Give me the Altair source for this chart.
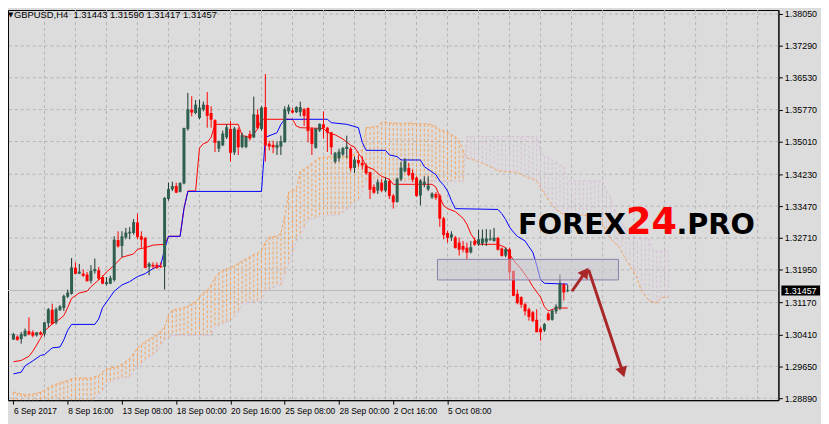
import altair as alt
import pandas as pd

# ---------------- data ----------------
bars = list(range(144))
opens = [1.3029, 1.3036, 1.3030, 1.3037, 1.3049, 1.3046, 1.3039, 1.3046, 1.3043, 1.3068,
         1.3100, 1.3069, 1.3099, 1.3104, 1.3131, 1.3138, 1.3200, 1.3186, 1.3186, 1.3184,
         1.3169, 1.3192, 1.3194, 1.3178, 1.3161, 1.3162, 1.3171, 1.3266, 1.3252, 1.3272,
         1.3282, 1.3283, 1.3308, 1.3275, 1.3271, 1.3202, 1.3207, 1.3207, 1.3204, 1.3202,
         1.3364, 1.3387, 1.3395, 1.3381, 1.3401, 1.3531, 1.3577, 1.3569, 1.3557, 1.3577,
         1.3588, 1.3569, 1.3552, 1.3484, 1.3492, 1.3511, 1.3531, 1.3475, 1.3529, 1.3488,
         1.3488, 1.3519, 1.3511, 1.3565, 1.3531, 1.3583, 1.3496, 1.3493, 1.3486, 1.3489,
         1.3499, 1.3573, 1.3575, 1.3571, 1.3571, 1.3578, 1.3581, 1.3531, 1.3486, 1.3527,
         1.3542, 1.3534, 1.3523, 1.3453, 1.3461, 1.3470, 1.3483, 1.3484, 1.3438, 1.3457,
         1.3450, 1.3444, 1.3428, 1.3393, 1.3384, 1.3403, 1.3384, 1.3407, 1.3372, 1.3357,
         1.3411, 1.3430, 1.3438, 1.3426, 1.3415, 1.3372, 1.3399, 1.3387, 1.3368, 1.3376,
         1.3372, 1.3318, 1.3283, 1.3272, 1.3272, 1.3260, 1.3252, 1.3248, 1.3237, 1.3264,
         1.3256, 1.3258, 1.3261, 1.3267, 1.3264, 1.3271, 1.3246, 1.3229, 1.3244, 1.3192,
         1.3138, 1.3130, 1.3113, 1.3101, 1.3094, 1.3076, 1.3055, 1.3051, 1.3091, 1.3076,
         1.3096, 1.3104, 1.3161, 1.31443]
highs = [1.3045, 1.3039, 1.3047, 1.3055, 1.3082, 1.3051, 1.3047, 1.3049, 1.3070, 1.3104,
         1.3114, 1.3105, 1.3111, 1.3136, 1.3148, 1.3223, 1.3213, 1.3209, 1.3196, 1.3190,
         1.3206, 1.3222, 1.3202, 1.3182, 1.3178, 1.3181, 1.3275, 1.3287, 1.3287, 1.3295,
         1.3297, 1.3316, 1.3329, 1.3287, 1.3274, 1.3213, 1.3213, 1.3213, 1.3213, 1.3368,
         1.3403, 1.3405, 1.3403, 1.3404, 1.3534, 1.3617, 1.3609, 1.3600, 1.3601, 1.3596,
         1.3619, 1.3585, 1.3554, 1.3503, 1.3527, 1.3542, 1.3550, 1.3536, 1.3534, 1.3522,
         1.3515, 1.3527, 1.3608, 1.3578, 1.3585, 1.3662, 1.3503, 1.3503, 1.3501, 1.3515,
         1.3585, 1.3589, 1.3581, 1.3585, 1.3596, 1.3581, 1.3582, 1.3534, 1.3532, 1.3544,
         1.3573, 1.3536, 1.3524, 1.3476, 1.3484, 1.3488, 1.3515, 1.3488, 1.3465, 1.3469,
         1.3465, 1.3449, 1.3429, 1.3399, 1.3411, 1.3411, 1.3415, 1.3411, 1.3376, 1.3415,
         1.3453, 1.3461, 1.3450, 1.3434, 1.3418, 1.3411, 1.3418, 1.3418, 1.3380, 1.3380,
         1.3376, 1.3322, 1.3288, 1.3287, 1.3276, 1.3272, 1.3264, 1.3260, 1.3264, 1.3272,
         1.3291, 1.3291, 1.3292, 1.3291, 1.3295, 1.3274, 1.3248, 1.3248, 1.3248, 1.3194,
         1.3148, 1.3132, 1.3117, 1.3105, 1.3097, 1.3101, 1.3059, 1.3068, 1.3094, 1.3101,
         1.3113, 1.3184, 1.3163, 1.31590]
lows = [1.3028, 1.3026, 1.3019, 1.3036, 1.3039, 1.3034, 1.3036, 1.3039, 1.3036, 1.3059,
        1.3065, 1.3065, 1.3097, 1.3097, 1.3128, 1.3136, 1.3185, 1.3185, 1.3178, 1.3167,
        1.3163, 1.3186, 1.3171, 1.3161, 1.3158, 1.3161, 1.3167, 1.3248, 1.3225, 1.3268,
        1.3268, 1.3279, 1.3268, 1.3248, 1.3200, 1.3182, 1.3198, 1.3198, 1.3200, 1.3148,
        1.3360, 1.3383, 1.3378, 1.3380, 1.3399, 1.3527, 1.3561, 1.3566, 1.3554, 1.3573,
        1.3534, 1.3534, 1.3476, 1.3476, 1.3490, 1.3507, 1.3453, 1.3469, 1.3469, 1.3485,
        1.3485, 1.3503, 1.3509, 1.3531, 1.3527, 1.3453, 1.3480, 1.3473, 1.3469, 1.3469,
        1.3499, 1.3566, 1.3568, 1.3569, 1.3561, 1.3538, 1.3499, 1.3469, 1.3484, 1.3524,
        1.3508, 1.3476, 1.3469, 1.3449, 1.3453, 1.3467, 1.3461, 1.3430, 1.3426, 1.3441,
        1.3434, 1.3422, 1.3364, 1.3376, 1.3376, 1.3380, 1.3380, 1.3364, 1.3341, 1.3355,
        1.3407, 1.3427, 1.3418, 1.3404, 1.3369, 1.3349, 1.3392, 1.3383, 1.3364, 1.3362,
        1.3298, 1.3268, 1.3260, 1.3264, 1.3246, 1.3229, 1.3237, 1.3221, 1.3234, 1.3252,
        1.3252, 1.3253, 1.3252, 1.3264, 1.3262, 1.3241, 1.3227, 1.3225, 1.3171, 1.3132,
        1.3113, 1.3104, 1.3086, 1.3074, 1.3070, 1.3047, 1.3026, 1.3047, 1.3074, 1.3074,
        1.3090, 1.3099, 1.3122, 1.31417]
closes = [1.3041, 1.3029, 1.3041, 1.3049, 1.3042, 1.3039, 1.3045, 1.3042, 1.3069, 1.3100,
          1.3067, 1.3100, 1.3107, 1.3132, 1.3140, 1.3200, 1.3186, 1.3190, 1.3182, 1.3169,
          1.3192, 1.3196, 1.3175, 1.3163, 1.3165, 1.3175, 1.3266, 1.3252, 1.3274, 1.3283,
          1.3285, 1.3308, 1.3274, 1.3268, 1.3200, 1.3209, 1.3204, 1.3200, 1.3202, 1.3366,
          1.3387, 1.3394, 1.3380, 1.3401, 1.3532, 1.3577, 1.3571, 1.3588, 1.3581, 1.3588,
          1.3563, 1.3554, 1.3499, 1.3501, 1.3519, 1.3534, 1.3475, 1.3531, 1.3488, 1.3515,
          1.3511, 1.3509, 1.3565, 1.3534, 1.3581, 1.3492, 1.3490, 1.3488, 1.3492, 1.3501,
          1.3577, 1.3582, 1.3571, 1.3582, 1.3582, 1.3563, 1.3527, 1.3496, 1.3531, 1.3542,
          1.3534, 1.3523, 1.3488, 1.3473, 1.3476, 1.3484, 1.3488, 1.3438, 1.3457, 1.3450,
          1.3445, 1.3426, 1.3387, 1.3380, 1.3403, 1.3385, 1.3407, 1.3372, 1.3357, 1.3411,
          1.3438, 1.3453, 1.3422, 1.3411, 1.3372, 1.3407, 1.3404, 1.3395, 1.3376, 1.3368,
          1.3318, 1.3279, 1.3272, 1.3279, 1.3248, 1.3244, 1.3244, 1.3237, 1.3248, 1.3256,
          1.3267, 1.3269, 1.3269, 1.3269, 1.3271, 1.3244, 1.3229, 1.3244, 1.3190, 1.3134,
          1.3117, 1.3113, 1.3097, 1.3084, 1.3074, 1.3047, 1.3047, 1.3065, 1.3076, 1.3097,
          1.3107, 1.3161, 1.3142, 1.31457]

# Ichimoku: Tenkan-sen (red) and Kijun-sen (blue), breakpoints (bar, price)
tenkan_bars = [0, 2, 4, 5, 6, 7, 8, 10, 12, 13, 14, 15, 17, 19, 20, 21, 23, 24, 26, 28,
               31, 32, 34, 36, 39, 40, 43, 44, 45, 47, 48, 49, 50, 51, 52, 58, 59, 61, 62, 63,
               64, 72, 73, 74, 80, 81, 82, 83, 85, 87, 88, 89, 90, 91, 93, 94, 95, 97, 98, 108,
               109, 110, 111, 112, 114, 116, 117, 118, 119, 120, 125, 127, 128, 129, 131, 133, 134, 136, 137, 138,
               140, 143]
tenkan_vals = [1.2976, 1.2979, 1.2989, 1.3001, 1.3016, 1.3032, 1.3049, 1.3066, 1.3078, 1.3086,
               1.3105, 1.3127, 1.3140, 1.3144, 1.3155, 1.3163, 1.3179, 1.3190, 1.3206, 1.3225,
               1.3233, 1.3244, 1.3248, 1.3254, 1.3256, 1.3275, 1.3275, 1.3341, 1.3383, 1.3383,
               1.3485, 1.3496, 1.3499, 1.3511, 1.3542, 1.3542, 1.3515, 1.3511, 1.3519, 1.3531,
               1.3554, 1.3554, 1.3538, 1.3534, 1.3532, 1.3523, 1.3519, 1.3517, 1.3507, 1.3492,
               1.3488, 1.3473, 1.3461, 1.3442, 1.3434, 1.3425, 1.3418, 1.3411, 1.3399, 1.3399,
               1.3392, 1.3369, 1.3348, 1.3341, 1.3334, 1.3318, 1.3304, 1.3281, 1.3267, 1.3256,
               1.3256, 1.3248, 1.3233, 1.3218, 1.3197, 1.3171, 1.3155, 1.3130, 1.3107, 1.3097,
               1.3104, 1.3104]
kijun_bars = [0, 2, 3, 5, 7, 8, 10, 12, 13, 14, 15, 21, 22, 23, 26, 28, 30, 32, 34, 36,
              38, 39, 40, 43, 44, 45, 64, 65, 68, 69, 70, 81, 82, 86, 89, 90, 91, 96, 97, 99,
              100, 105, 106, 109, 110, 111, 112, 113, 114, 125, 126, 127, 128, 129, 130, 132, 133, 134, 135, 136,
              137, 143]
kijun_vals = [1.2947, 1.2951, 1.2966, 1.2978, 1.2991, 1.2993, 1.3009, 1.3011, 1.3028, 1.3051,
              1.3065, 1.3065, 1.3078, 1.3105, 1.3144, 1.3159, 1.3167, 1.3179, 1.3186, 1.3198,
              1.3206, 1.3244, 1.3275, 1.3275, 1.3341, 1.3382, 1.3382, 1.3511, 1.3522, 1.3542,
              1.3554, 1.3554, 1.3546, 1.3542, 1.3534, 1.3499, 1.3480, 1.3480, 1.3469, 1.3465,
              1.3457, 1.3457, 1.3441, 1.3422, 1.3407, 1.3397, 1.3383, 1.3360, 1.3341, 1.3339,
              1.3329, 1.3315, 1.3297, 1.3285, 1.3275, 1.3264, 1.3250, 1.3237, 1.3206, 1.3171,
              1.3163, 1.3161]

# Senkou Span A (sandy brown) and B (thistle), one value per bar 0..169
senkou_a = [1.2904, 1.2901, 1.2899, 1.2897, 1.2898, 1.2899, 1.2901, 1.2904, 1.2908, 1.2914,
            1.2919, 1.2922, 1.2926, 1.2929, 1.2931, 1.2935, 1.2937, 1.2937, 1.2937, 1.2937,
            1.2937, 1.2940, 1.2943, 1.2951, 1.2958, 1.2961, 1.2963, 1.2965, 1.2970, 1.2977,
            1.2983, 1.2995, 1.3009, 1.3016, 1.3024, 1.3030, 1.3035, 1.3041, 1.3049, 1.3059,
            1.3086, 1.3099, 1.3101, 1.3103, 1.3105, 1.3109, 1.3115, 1.3119, 1.3130, 1.3140,
            1.3146, 1.3158, 1.3176, 1.3188, 1.3194, 1.3197, 1.3201, 1.3204, 1.3211, 1.3216,
            1.3221, 1.3226, 1.3231, 1.3235, 1.3241, 1.3260, 1.3273, 1.3274, 1.3275, 1.3283,
            1.3322, 1.3380, 1.3384, 1.3387, 1.3430, 1.3435, 1.3441, 1.3448, 1.3457, 1.3462,
            1.3463, 1.3464, 1.3465, 1.3465, 1.3465, 1.3465, 1.3465, 1.3465, 1.3471, 1.3477,
            1.3480, 1.3534, 1.3535, 1.3536, 1.3538, 1.3547, 1.3547, 1.3545, 1.3545, 1.3545,
            1.3544, 1.3544, 1.3545, 1.3545, 1.3543, 1.3543, 1.3543, 1.3543, 1.3541, 1.3536,
            1.3529, 1.3527, 1.3523, 1.3517, 1.3513, 1.3503, 1.3480, 1.3462, 1.3459, 1.3456,
            1.3452, 1.3449, 1.3445, 1.3441, 1.3436, 1.3431, 1.3430, 1.3429, 1.3429, 1.3428,
            1.3427, 1.3422, 1.3418, 1.3414, 1.3411, 1.3406, 1.3392, 1.3376, 1.3362, 1.3350,
            1.3339, 1.3332, 1.3327, 1.3325, 1.3325, 1.3325, 1.3325, 1.3325, 1.3325, 1.3327,
            1.3329, 1.3332, 1.3306, 1.3283, 1.3269, 1.3260, 1.3253, 1.3237, 1.3220, 1.3206,
            1.3190, 1.3174, 1.3144, 1.3133, 1.3121, 1.3118, 1.3116, 1.3128, 1.3130, 1.3130]
senkou_b = [1.2865, 1.2865, 1.2867, 1.2868, 1.2868, 1.2869, 1.2870, 1.2870, 1.2871, 1.2872,
            1.2872, 1.2873, 1.2875, 1.2875, 1.2875, 1.2876, 1.2877, 1.2877, 1.2878, 1.2879,
            1.2879, 1.2889, 1.2898, 1.2907, 1.2923, 1.2928, 1.2933, 1.2935, 1.2937, 1.2938,
            1.2940, 1.2954, 1.2965, 1.2972, 1.2979, 1.2986, 1.2993, 1.3000, 1.3014, 1.3028,
            1.3034, 1.3039, 1.3039, 1.3039, 1.3039, 1.3039, 1.3039, 1.3039, 1.3039, 1.3039,
            1.3039, 1.3039, 1.3058, 1.3063, 1.3067, 1.3071, 1.3074, 1.3084, 1.3093, 1.3116,
            1.3117, 1.3118, 1.3119, 1.3121, 1.3121, 1.3144, 1.3149, 1.3153, 1.3157, 1.3159,
            1.3183, 1.3209, 1.3237, 1.3264, 1.3275, 1.3295, 1.3314, 1.3317, 1.3319, 1.3321,
            1.3323, 1.3324, 1.3325, 1.3326, 1.3326, 1.3332, 1.3339, 1.3345, 1.3353, 1.3360,
            1.3383, 1.3406, 1.3406, 1.3406, 1.3406, 1.3406, 1.3406, 1.3406, 1.3406, 1.3406,
            1.3406, 1.3406, 1.3406, 1.3406, 1.3406, 1.3406, 1.3406, 1.3406, 1.3406, 1.3406,
            1.3406, 1.3406, 1.3406, 1.3406, 1.3406, 1.3406, 1.3406, 1.3513, 1.3513, 1.3513,
            1.3513, 1.3513, 1.3513, 1.3513, 1.3513, 1.3513, 1.3513, 1.3513, 1.3513, 1.3513,
            1.3513, 1.3513, 1.3513, 1.3513, 1.3513, 1.3513, 1.3480, 1.3465, 1.3462, 1.3457,
            1.3452, 1.3445, 1.3441, 1.3409, 1.3407, 1.3407, 1.3407, 1.3407, 1.3407, 1.3407,
            1.3407, 1.3407, 1.3407, 1.3383, 1.3368, 1.3341, 1.3325, 1.3306, 1.3292, 1.3283,
            1.3275, 1.3269, 1.3269, 1.3269, 1.3269, 1.3241, 1.3239, 1.3239, 1.3239, 1.3239]

price_ticks = [1.38050, 1.37290, 1.36530, 1.35770, 1.35010, 1.34230, 1.33470,
               1.32710, 1.31950, 1.31170, 1.30410, 1.29650, 1.28890]
time_tick_bars = [0, 14, 28, 42, 56, 70, 84, 98, 112]
time_tick_labels = ["6 Sep 2017", "8 Sep 16:00", "13 Sep 08:00", "18 Sep 00:00",
                    "20 Sep 16:00", "25 Sep 08:00", "28 Sep 00:00", "2 Oct 16:00", "5 Oct 08:00"]
grid_bars = [8, 16, 24, 32, 40, 48, 56, 64, 72, 80, 88, 96, 104, 112, 120, 128,
             136, 144, 152, 160, 168, 176, 184, 192]
last_price = 1.31457
title_text = "GBPUSD,H4\u00a0 1.31443 1.31590 1.31417 1.31457"

# annotation objects (in bar / price units)
zone_bar = [109.4, 156.1]
zone_price = [1.3220, 1.3171]
arrow_start_bar = [144.1, 148.4]
arrow_start_price = [1.3144, 1.3195]
arrow_head_bar = [147.6, 157.2]
arrow_head_price = [1.3190, 1.2951]
arrow_head_angle = [35, 163]

# ---------------- styling ----------------
W, H = 778, 394
BG = "#DCDCDC"
GRID = "#B4B4B4"
BULL = "#2E5F4F"
BULL_WICK = "#18362D"
BEAR = "#FF0000"
ORANGE = "#F4A460"
THISTLE = "#D8BFD8"
FONT = "Liberation Sans"

xs = alt.Scale(domain=[-0.126, 196.09], nice=False, zero=False)
ys = alt.Scale(domain=[1.28843, 1.38145], nice=False, zero=False)

label_expr = "[" + ",".join("'" + t + "'" for t in time_tick_labels) + "][round(datum.value/14)]"
xaxis = alt.Axis(values=time_tick_bars, labelExpr=label_expr, orient="bottom", grid=False,
                 domainColor="black", tickColor="black", tickSize=4, labelAlign="left",
                 labelBaseline="top", labelPadding=2, labelFont=FONT, labelFontSize=8.5,
                 labelColor="black", labelOverlap=False, labelFlush=False, title=None)
yaxis = alt.Axis(orient="right", values=price_ticks, format=".5f", grid=False, tickSize=4,
                 labelPadding=2, labelFont=FONT, labelFontSize=9, labelColor="black",
                 tickColor="black", domainColor="black", labelOverlap=False,
                 labelFlush=False, labelBaseline="middle", title=None)


def X(field="bar"):
    return alt.X(f"{field}:Q", scale=xs, axis=xaxis, title=None)


def Y(field):
    return alt.Y(f"{field}:Q", scale=ys, axis=yaxis, title=None)


candles = pd.DataFrame({"bar": bars, "open": opens, "high": highs, "low": lows, "close": closes})
cloud = pd.DataFrame({"bar": list(range(len(senkou_a))), "a": senkou_a, "b": senkou_b})
up = "datum.close >= datum.open"

vgrid = alt.Chart(pd.DataFrame({"bar": grid_bars})).mark_rule(
    color=GRID, strokeDash=[3, 3], strokeWidth=1).encode(x=X())
hgrid = alt.Chart(pd.DataFrame({"p": price_ticks})).mark_rule(
    color=GRID, strokeDash=[3, 3], strokeWidth=1).encode(y=Y("p"))
pline = alt.Chart(pd.DataFrame({"p": [last_price]})).mark_rule(
    color="#B9B9B9", strokeWidth=1).encode(y=Y("p"))

hatch = alt.Chart(cloud).mark_rule(strokeDash=[3, 2], strokeWidth=1, clip=True).encode(
    x=X(), y=Y("a"), y2=alt.Y2("b:Q"),
    color=alt.condition("datum.a >= datum.b", alt.value(ORANGE), alt.value(THISTLE)))
line_a = alt.Chart(cloud).mark_line(color=ORANGE, strokeDash=[3, 2], strokeWidth=1, clip=True).encode(
    x=X(), y=Y("a"))
line_b = alt.Chart(cloud).mark_line(color=THISTLE, strokeDash=[3, 2], strokeWidth=1, clip=True).encode(
    x=X(), y=Y("b"))

tenkan = alt.Chart(pd.DataFrame({"bar": tenkan_bars, "v": tenkan_vals})).mark_line(
    color="#FF0000", strokeWidth=1, clip=True).encode(x=X(), y=Y("v"))
kijun = alt.Chart(pd.DataFrame({"bar": kijun_bars, "v": kijun_vals})).mark_line(
    color="#0000FF", strokeWidth=1, clip=True).encode(x=X(), y=Y("v"))

wick = alt.Chart(candles).mark_rule(strokeWidth=1).encode(
    x=X(), y=Y("low"), y2=alt.Y2("high:Q"),
    color=alt.condition(up, alt.value(BULL_WICK), alt.value(BEAR)))
body = alt.Chart(candles).mark_bar(size=3, orient="vertical").encode(
    x=X(), y=Y("open"), y2=alt.Y2("close:Q"),
    color=alt.condition(up, alt.value(BULL), alt.value(BEAR)))
doji = alt.Chart(candles).mark_tick(size=3, thickness=1, orient="horizontal").encode(
    x=X(), y=Y("close"),
    color=alt.condition(up, alt.value(BULL), alt.value(BEAR)))

zone = alt.Chart(pd.DataFrame({"x0": [zone_bar[0]], "x1": [zone_bar[1]],
                               "p0": [zone_price[0]], "p1": [zone_price[1]]})).mark_rect(
    fill="#C9C9D2", fillOpacity=0.55, stroke="#8F7FAA", strokeWidth=1).encode(
    x=X("x0"), x2=alt.X2("x1:Q"), y=Y("p0"), y2=alt.Y2("p1:Q"))

arrows = pd.DataFrame({"x0": arrow_start_bar, "p0": arrow_start_price,
                       "x1": arrow_head_bar, "p1": arrow_head_price, "ang": arrow_head_angle})
arrow_lines = alt.Chart(arrows).mark_rule(color="#A8282A", strokeWidth=3).encode(
    x=X("x0"), x2=alt.X2("x1:Q"), y=Y("p0"), y2=alt.Y2("p1:Q"))
arrow_heads = alt.Chart(arrows).mark_point(shape="triangle-up", filled=True, size=150,
                                           color="#A8282A", opacity=1).encode(
    x=X("x1"), y=Y("p1"), angle=alt.Angle("ang:Q", scale=None))

one = pd.DataFrame({"t": [""]})
logo1 = alt.Chart(one).mark_text(text="FOREX", font="DejaVu Sans", fontWeight="bold", fontSize=29,
                                 color="black", align="right", baseline="alphabetic").encode(
    x=alt.value(624), y=alt.value(226))
logo2 = alt.Chart(one).mark_text(text="24", font="DejaVu Sans", fontWeight="bold", fontSize=37,
                                 color="#FF0000", align="left", baseline="alphabetic").encode(
    x=alt.value(624), y=alt.value(226))
logo3 = alt.Chart(one).mark_text(text=".PRO", font="DejaVu Sans", fontWeight="bold", fontSize=29,
                                 color="black", align="left", baseline="alphabetic").encode(
    x=alt.value(675), y=alt.value(226))

tri = alt.Chart(one).mark_text(text="\u25bc", font="DejaVu Sans", fontSize=7, color="black",
                               align="left", baseline="middle").encode(
    x=alt.value(0), y=alt.value(5))
title = alt.Chart(one).mark_text(text=title_text, font=FONT, fontSize=9.5, color="black",
                                 align="left", baseline="middle").encode(
    x=alt.value(6), y=alt.value(5))

pbox = alt.Chart(pd.DataFrame({"p": [last_price]})).mark_rect(
    color="black", yOffset=-5, y2Offset=5).encode(
    x=alt.value(781), x2=alt.value(820), y=Y("p"), y2=alt.Y2("p:Q"))
ptext = alt.Chart(pd.DataFrame({"p": [last_price], "t": ["1.31457"]})).mark_text(
    font=FONT, fontSize=9, color="white", align="left", baseline="middle").encode(
    x=alt.value(784), y=Y("p"), text="t:N")

chart = alt.layer(
    vgrid, hgrid, pline, hatch, line_a, line_b, tenkan, kijun, wick, body, doji,
    zone, arrow_lines, arrow_heads, logo1, logo2, logo3, tri, title, pbox, ptext
).properties(
    width=W, height=H, background=BG,
    padding={"left": 0, "top": 0, "right": 43, "bottom": 22},
    autosize=alt.AutoSizeParams(type="none")
).configure_view(stroke="black", strokeWidth=1)

chart.save("out.html", embed_options={"renderer": "svg", "actions": False})
